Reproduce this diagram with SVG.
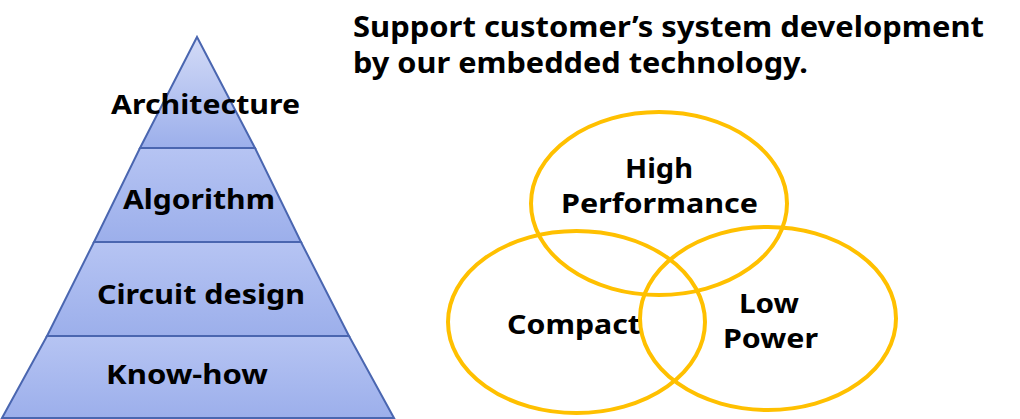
<svg xmlns="http://www.w3.org/2000/svg" width="1020" height="419" viewBox="0 0 1020 419">
<style>
.t{font-family:"Noto Sans","DejaVu Sans",sans-serif;font-weight:bold;fill:#000;text-anchor:middle}
.lbl{font-size:27px}
.title{font-size:28px;text-anchor:start}
.layer{stroke:#4a66b0;stroke-width:2}
.ell{fill:none;stroke:#FFC000;stroke-width:4}
</style>
<defs>
<linearGradient id="gTop" x1="0" y1="0" x2="0" y2="1">
<stop offset="0" stop-color="#d3dbf7"/><stop offset="1" stop-color="#9cafeb"/>
</linearGradient>
<linearGradient id="gLay" x1="0" y1="0" x2="0" y2="1">
<stop offset="0" stop-color="#b6c4f3"/><stop offset="1" stop-color="#9cafeb"/>
</linearGradient>
</defs>
<g id="pyramid">
<g id="layer-knowhow"><polygon class="layer" fill="url(#gLay)" points="47,336 349,336 394,418 2,418"/><text class="t lbl" x="187" y="384" textLength="162" lengthAdjust="spacingAndGlyphs">Know-how</text></g>
<g id="layer-circuit"><polygon class="layer" fill="url(#gLay)" points="94,242 301,242 349,336 47,336"/><text class="t lbl" x="201" y="304" textLength="208" lengthAdjust="spacingAndGlyphs">Circuit design</text></g>
<g id="layer-algorithm"><polygon class="layer" fill="url(#gLay)" points="140,148 255,148 301,242 94,242"/><text class="t lbl" x="199" y="209" textLength="152" lengthAdjust="spacingAndGlyphs">Algorithm</text></g>
<g id="layer-architecture"><polygon class="layer" fill="url(#gTop)" points="197,37 255,148 140,148"/><text class="t lbl" x="205.5" y="114" textLength="189" lengthAdjust="spacingAndGlyphs">Architecture</text></g>
</g>
<g id="title"><text class="t title" x="353" y="37" textLength="631" lengthAdjust="spacingAndGlyphs">Support customer’s system development</text><text class="t title" x="353" y="73" textLength="455" lengthAdjust="spacingAndGlyphs">by our embedded technology.</text></g>
<g id="venn">
<g id="high-performance"><ellipse class="ell" cx="659" cy="203.5" rx="128" ry="91.5"/><text class="t lbl" x="659" y="178" textLength="68" lengthAdjust="spacingAndGlyphs">High</text><text class="t lbl" x="659.5" y="213" textLength="197" lengthAdjust="spacingAndGlyphs">Performance</text></g>
<g id="compact"><ellipse class="ell" cx="576.5" cy="322" rx="128.5" ry="91"/><text class="t lbl" x="574" y="334" textLength="134" lengthAdjust="spacingAndGlyphs">Compact</text></g>
<g id="low-power"><ellipse class="ell" cx="768" cy="318.5" rx="128" ry="91.5"/><text class="t lbl" x="769" y="313" textLength="60" lengthAdjust="spacingAndGlyphs">Low</text><text class="t lbl" x="770.5" y="348" textLength="95" lengthAdjust="spacingAndGlyphs">Power</text></g>
</g>
</svg>
